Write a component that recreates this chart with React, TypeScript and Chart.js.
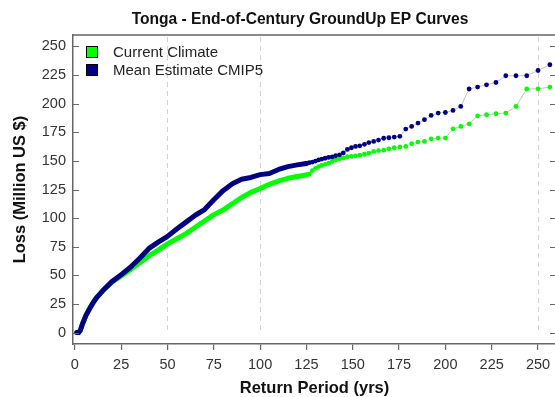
import { useEffect, useRef } from "react";
import { Chart, registerables } from "chart.js";

Chart.register(...registerables);

const TITLE = "Tonga - End-of-Century GroundUp EP Curves";
const X_TITLE = "Return Period (yrs)";
const Y_TITLE = "Loss (Million US $)";
const SERIES_NAMES = ["Current Climate", "Mean Estimate CMIP5"];
const SERIES_COLORS = ["#00ff00", "#000080"];

const X_TICKS = [0, 25, 50, 75, 100, 125, 150, 175, 200, 225, 250];
const Y_TICKS = [0, 25, 50, 75, 100, 125, 150, 175, 200, 225, 250];
const REF_LINES = [50, 100, 250];

// Return periods (yrs)
const returnPeriods = [
  1, 2, 3, 4, 5, 6, 8, 10, 12, 15, 20, 25, 30, 35, 40, 45, 50, 55, 60, 65, 70, 75,
  80, 85, 90, 95, 100, 105, 110, 115, 120,
  125.0, 126.6, 128.2, 129.9, 131.6, 133.3, 135.1, 137.0, 138.9, 140.8, 142.9,
  144.9, 147.1, 149.3, 151.5, 153.8, 156.3, 158.7, 161.3, 163.9, 166.7, 169.5,
  172.4, 175.4, 178.6, 181.8, 185.2, 188.7, 192.3, 196.1, 200.0, 204.1, 208.3,
  212.8, 217.4, 222.2, 227.3, 232.6, 238.1, 243.9, 250.0, 256.4,
];

// Loss (Million US $) - Current Climate
const currentLoss = [
  0, 0, 2, 7, 11, 15, 21, 26.5, 31, 36.5, 44, 49.5, 55, 61, 67, 72, 77.5, 82, 86.5,
  92, 97.5, 103, 107, 112.5, 118, 122.5, 125.8, 129.5, 132.5, 134.8, 136.3,
  137.8, 138.5, 141.5, 143.5, 145.0, 146.0, 147.0, 148.0, 149.5, 150.8, 151.8,
  152.6, 153.6, 154.0, 154.3, 155.0, 155.8, 156.8, 158.3, 159.0, 159.4, 160.5,
  161.5, 162.2, 162.6, 165.0, 166.4, 167.0, 169.3, 169.9, 169.9, 178.0, 180.1,
  182.4, 189.4, 190.3, 191.2, 191.8, 197.6, 212.8, 213.0, 214.5,
];

// Loss (Million US $) - Mean Estimate CMIP5
const cmip5Loss = [
  0, 0, 2, 7, 11, 15, 21, 26.5, 31, 36.5, 44.5, 50.5, 57, 65, 73.5, 79, 84, 90.5,
  96.5, 102.5, 107.5, 116, 124, 130, 134, 135.5, 138, 139, 142.5, 145, 146.5,
  147.8, 148.4, 149.0, 149.8, 150.8, 151.6, 152.3, 153.0, 153.5, 154.5, 155.3,
  157.0, 160.0, 161.5, 162.6, 163.2, 164.5, 166.0, 167.0, 168.2, 169.8, 170.2,
  170.8, 171.5, 177.8, 180.1, 183.0, 186.0, 189.7, 191.8, 192.3, 194.1, 197.6,
  212.8, 214.5, 216.5, 218.5, 224.4, 224.4, 224.4, 229.0, 234.0,
];

const DENSE_LIMIT = 125; // below this return period the points merge into a band

const FONT = "'Liberation Sans', Arial, Helvetica, sans-serif";

export default function App() {
  const ref = useRef<HTMLCanvasElement | null>(null);

  useEffect(() => {
    const canvas = ref.current;
    if (!canvas) return;

    const makeData = (loss: number[]) =>
      returnPeriods.map((x, i) => ({ x, y: loss[i] }));

    const makeDataset = (idx: number, loss: number[]) => {
      const color = SERIES_COLORS[idx];
      return {
        label: SERIES_NAMES[idx],
        data: makeData(loss),
        showLine: true,
        borderColor: color,
        borderWidth: 1,
        borderCapStyle: "round" as const,
        borderJoinStyle: "round" as const,
        backgroundColor: color,
        pointBackgroundColor: color,
        pointBorderWidth: 0,
        pointRadius: (c: any) => (c.raw && c.raw.x >= DENSE_LIMIT ? 2.4 : 0),
        pointHoverRadius: 0,
        tension: 0,
        segment: {
          borderColor: (c: any) => (c.p0.parsed.x < DENSE_LIMIT ? color : "#c4c4c4"),
          borderWidth: (c: any) => (c.p0.parsed.x < DENSE_LIMIT ? 5 : 1),
        },
      };
    };

    const decor = {
      id: "decor",
      beforeDatasetsDraw(chart: any) {
        const { ctx, chartArea, scales } = chart;
        const xs = scales.x;
        const ys = scales.y;
        ctx.save();
        ctx.strokeStyle = "#d2d2d2";
        ctx.lineWidth = 1;
        ctx.setLineDash([5, 4]);
        REF_LINES.forEach((v) => {
          const px = Math.round(xs.getPixelForValue(v)) + 0.5;
          ctx.beginPath();
          ctx.moveTo(px, chartArea.top + 2);
          ctx.lineTo(px, ys.getPixelForValue(0));
          ctx.stroke();
        });
        ctx.restore();
      },
      afterDraw(chart: any) {
        const { ctx, chartArea, scales } = chart;
        const ys = scales.y;
        ctx.save();
        // box top + right
        ctx.strokeStyle = "#666666";
        ctx.lineWidth = 1.5;
        ctx.beginPath();
        ctx.moveTo(chartArea.left, chartArea.top);
        ctx.lineTo(chartArea.right, chartArea.top);
        ctx.lineTo(chartArea.right, chartArea.bottom);
        ctx.stroke();
        // inward y ticks on both sides
        ctx.lineWidth = 1.2;
        Y_TICKS.forEach((v) => {
          const py = Math.round(ys.getPixelForValue(v)) + 0.5;
          ctx.beginPath();
          ctx.moveTo(chartArea.left, py);
          ctx.lineTo(chartArea.left + 6, py);
          ctx.moveTo(chartArea.right - 6, py);
          ctx.lineTo(chartArea.right, py);
          ctx.stroke();
        });
        // title
        ctx.fillStyle = "#111111";
        ctx.textAlign = "center";
        ctx.textBaseline = "middle";
        ctx.font = `bold 15.6px ${FONT}`;
        ctx.fillText(TITLE, 300, 20);
        // x title
        ctx.font = `bold 16.5px ${FONT}`;
        ctx.fillText(X_TITLE, (chartArea.left + chartArea.right) / 2, 388);
        // y title
        ctx.save();
        ctx.translate(20, (chartArea.top + chartArea.bottom) / 2);
        ctx.rotate(-Math.PI / 2);
        ctx.fillText(Y_TITLE, 0, 0);
        ctx.restore();
        // legend
        ctx.font = `15px ${FONT}`;
        ctx.textAlign = "left";
        const rows = [52, 70];
        [0, 1].forEach((i) => {
          const cy = rows[i];
          ctx.fillStyle = SERIES_COLORS[i];
          ctx.fillRect(86.5, cy - 5.5, 11, 11);
          ctx.strokeStyle = "#000000";
          ctx.lineWidth = 1;
          ctx.strokeRect(86.5, cy - 5.5, 11, 11);
          ctx.fillStyle = "#222222";
          ctx.fillText(SERIES_NAMES[i], 113, cy + 0.5);
        });
        ctx.restore();
      },
    };

    const chart = new Chart(canvas, {
      type: "scatter",
      data: {
        datasets: [makeDataset(1, cmip5Loss), makeDataset(0, currentLoss)],
      },
      options: {
        animation: false,
        responsive: false,
        devicePixelRatio: 1,
        events: [],
        layout: { padding: { top: 35, right: 4, left: 0, bottom: 0 } },
        plugins: {
          legend: { display: false },
          title: { display: false },
          tooltip: { enabled: false },
        },
        scales: {
          x: {
            type: "linear",
            min: -1,
            max: 259.7,
            afterBuildTicks: (s: any) => {
              s.ticks = X_TICKS.map((v) => ({ value: v }));
            },
            afterFit: (s: any) => {
              s.height = 53;
            },
            grid: {
              display: true,
              drawOnChartArea: false,
              drawTicks: true,
              tickLength: 6,
              color: "#666666",
              lineWidth: 1.2,
            },
            border: { display: true, color: "#666666", width: 1.5 },
            ticks: {
              autoSkip: false,
              maxRotation: 0,
              padding: 6,
              color: "#333333",
              font: { family: FONT, size: 14.5 },
            },
          },
          y: {
            type: "linear",
            min: -10,
            max: 260,
            afterBuildTicks: (s: any) => {
              s.ticks = Y_TICKS.map((v) => ({ value: v }));
            },
            afterFit: (s: any) => {
              s.width = 73;
            },
            grid: { display: false, drawTicks: false },
            border: { display: true, color: "#666666", width: 1.5 },
            ticks: {
              autoSkip: false,
              padding: 7,
              color: "#333333",
              font: { family: FONT, size: 14.5 },
            },
          },
        },
      },
      plugins: [decor],
    });

    return () => chart.destroy();
  }, []);

  return (
    <div style={{ position: "fixed", left: 0, top: 0, width: 560, height: 397, background: "#ffffff" }}>
      <canvas ref={ref} width={560} height={397} style={{ display: "block" }} />
    </div>
  );
}
